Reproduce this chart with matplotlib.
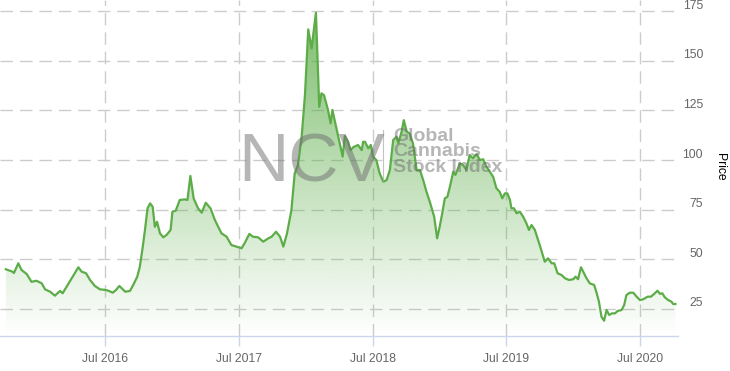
import numpy as np
import pandas as pd
import matplotlib
matplotlib.use("Agg")
import matplotlib.pyplot as plt
import matplotlib.dates as mdates
from matplotlib.transforms import ScaledTranslation

plt.rcParams['font.family'] = ['Liberation Sans', 'DejaVu Sans']

# Global Cannabis Stock Index (NCV), price
dates = [
    "2015-10-03", "2015-10-14", "2015-10-21", "2015-10-25", "2015-11-06", "2015-11-15",
    "2015-11-29", "2015-12-12", "2015-12-26", "2016-01-09", "2016-01-18", "2016-02-01",
    "2016-02-14", "2016-02-28", "2016-03-06", "2016-03-17", "2016-03-31", "2016-04-18",
    "2016-04-27", "2016-05-09", "2016-05-20", "2016-06-02", "2016-06-16", "2016-07-01",
    "2016-07-09", "2016-07-21", "2016-07-30", "2016-08-08", "2016-08-24", "2016-09-06",
    "2016-09-15", "2016-09-26", "2016-10-03", "2016-10-11", "2016-10-17", "2016-10-24",
    "2016-10-31", "2016-11-07", "2016-11-13", "2016-11-19", "2016-11-27", "2016-12-06",
    "2016-12-15", "2016-12-26", "2016-12-31", "2017-01-09", "2017-01-20", "2017-02-03",
    "2017-02-10", "2017-02-18", "2017-02-27", "2017-03-11", "2017-03-21", "2017-04-01",
    "2017-04-14", "2017-04-26", "2017-05-14", "2017-05-28", "2017-06-10", "2017-06-24",
    "2017-07-08", "2017-07-17", "2017-07-29", "2017-08-08", "2017-08-22", "2017-09-05",
    "2017-09-19", "2017-09-28", "2017-10-10", "2017-10-21", "2017-10-30", "2017-11-09",
    "2017-11-21", "2017-11-30", "2017-12-09", "2017-12-19", "2017-12-28", "2018-01-06",
    "2018-01-15", "2018-01-27", "2018-02-05", "2018-02-11", "2018-02-18", "2018-03-01",
    "2018-03-08", "2018-03-13", "2018-03-24", "2018-04-02", "2018-04-10", "2018-04-16",
    "2018-04-25", "2018-05-01", "2018-05-10", "2018-05-22", "2018-06-01", "2018-06-05",
    "2018-06-10", "2018-06-19", "2018-06-26", "2018-07-02", "2018-07-11", "2018-07-20",
    "2018-07-30", "2018-08-08", "2018-08-17", "2018-08-26", "2018-09-04", "2018-09-09",
    "2018-09-18", "2018-09-24", "2018-10-02", "2018-10-10", "2018-10-19", "2018-10-29",
    "2018-11-07", "2018-11-16", "2018-11-25", "2018-12-04", "2018-12-16", "2018-12-24",
    "2018-12-31", "2019-01-07", "2019-01-14", "2019-01-21", "2019-01-28", "2019-02-06",
    "2019-02-12", "2019-02-24", "2019-03-05", "2019-03-14", "2019-03-23", "2019-04-01",
    "2019-04-11", "2019-04-20", "2019-04-29", "2019-05-08", "2019-05-17", "2019-05-26",
    "2019-06-04", "2019-06-13", "2019-06-20", "2019-06-27", "2019-07-04", "2019-07-11",
    "2019-07-15", "2019-07-22", "2019-07-29", "2019-08-07", "2019-08-16", "2019-08-25",
    "2019-09-01", "2019-09-08", "2019-09-17", "2019-09-26", "2019-10-03", "2019-10-14",
    "2019-10-23", "2019-11-02", "2019-11-09", "2019-11-18", "2019-11-29", "2019-12-08",
    "2019-12-19", "2019-12-31", "2020-01-06", "2020-01-13", "2020-01-21", "2020-01-27",
    "2020-02-05", "2020-02-14", "2020-02-26", "2020-03-04", "2020-03-10", "2020-03-17",
    "2020-03-24", "2020-03-31", "2020-04-07", "2020-04-15", "2020-04-23", "2020-04-30",
    "2020-05-11", "2020-05-18", "2020-05-24", "2020-06-02", "2020-06-12", "2020-06-21",
    "2020-06-30", "2020-07-09", "2020-07-21", "2020-07-30", "2020-08-08", "2020-08-17",
    "2020-08-24", "2020-08-30", "2020-09-06", "2020-09-15", "2020-09-24", "2020-09-29",
    "2020-10-05",
]
prices = [
    45.0, 44.3, 43.8, 43.1, 48.0, 44.6,
    42.6, 38.7, 39.2, 37.9, 34.9, 33.7,
    31.7, 34.1, 32.9, 36.2, 40.5, 46.0,
    43.8, 43.0, 39.6, 36.6, 34.9, 34.6,
    34.2, 33.2, 34.6, 36.6, 33.7, 34.1,
    37.1, 41.3, 46.3, 56.4, 64.8, 75.7,
    78.2, 76.5, 66.4, 68.9, 63.1, 61.1,
    62.3, 64.8, 74.0, 74.5, 79.9, 80.2,
    79.9, 92.0, 80.7, 75.7, 73.5, 78.5,
    75.7, 69.8, 63.1, 61.4, 57.2, 56.4,
    55.6, 58.4, 62.8, 61.4, 61.1, 58.9,
    60.6, 61.4, 63.9, 61.4, 56.4, 63.1,
    74.8, 93.3, 97.5, 111.7, 132.7, 165.8,
    156.2, 174.2, 126.8, 133.6, 132.7, 125.2,
    118.5, 125.2, 116.0, 108.4, 101.7, 112.1,
    109.2, 105.0, 106.6, 107.6, 105.0, 109.2,
    109.2, 105.9, 107.6, 101.7, 100.0, 93.3,
    89.1, 89.9, 95.0, 110.1, 111.7, 108.4,
    114.3, 120.1, 114.3, 113.4, 108.4, 95.0,
    95.0, 89.9, 84.0, 79.0, 71.5, 60.6,
    66.4, 73.2, 80.7, 81.5, 86.6, 94.1,
    92.5, 98.3, 97.5, 95.0, 102.5, 100.9,
    103.0, 100.0, 100.4, 96.6, 94.1, 91.6,
    85.8, 84.0, 80.7, 83.2, 83.2, 79.9,
    75.7, 75.7, 73.2, 74.0, 71.5, 68.1,
    64.8, 67.3, 64.8, 59.7, 55.6, 48.8,
    50.5, 48.0, 48.0, 43.0, 42.1, 40.5,
    39.6, 40.0, 41.3, 40.0, 46.0, 43.8,
    40.5, 37.9, 37.1, 32.9, 28.7, 21.1,
    19.1, 24.5, 22.0, 22.8, 22.8, 24.0,
    24.5, 27.0, 32.0, 33.2, 33.2, 31.2,
    29.5, 29.9, 31.2, 31.2, 32.6, 34.2,
    32.6, 32.9, 30.9, 29.5, 28.7, 27.5,
    27.5,
]
y_ticks = [25, 50, 75, 100, 125, 150, 175]

line_color = '#5cad48'
grid_color = '#cccccc'
label_color = '#666666'

x = mdates.date2num(pd.to_datetime(dates))
y = np.array(prices)
y_min, y_max = 11.4, 180.6
x_min = mdates.date2num(pd.Timestamp("2015-09-17"))
x_max = mdates.date2num(pd.Timestamp("2020-10-12"))

fig = plt.figure(figsize=(7.3, 3.71), dpi=100)
ax = fig.add_axes([0, 35 / 371, 678 / 730, 336 / 371])

# gradient area under the line
poly = ax.fill_between(x, y, y_min, color='none', lw=0)
alpha = np.linspace(0.82, 0.0, 256)
rgba = np.zeros((256, 1, 4))
rgba[..., :3] = matplotlib.colors.to_rgb(line_color)
rgba[:, 0, 3] = alpha
img = ax.imshow(rgba, extent=[x_min, x_max, y_min, y_max], aspect='auto',
                origin='upper', zorder=1)
img.set_clip_path(poly.get_paths()[0], transform=ax.transData)

ax.plot(x, y, color=line_color, lw=1.6, zorder=3)

ax.set_xlim(x_min, x_max)
ax.set_ylim(y_min, y_max)

ax.xaxis.set_major_locator(mdates.MonthLocator(bymonth=7))
ax.xaxis.set_major_formatter(mdates.DateFormatter('%b %Y'))
ax.set_yticks(y_ticks)

ax.grid(True, color=grid_color, lw=1, dashes=(9, 5), zorder=0)
ax.set_axisbelow(True)

for side in ['top', 'left', 'right']:
    ax.spines[side].set_visible(False)
ax.spines['bottom'].set_color('#ccd6eb')
ax.spines['bottom'].set_linewidth(1)

ax.yaxis.tick_right()
ax.tick_params(axis='y', length=0, pad=18, labelsize=8.7, labelcolor=label_color)
shift_up = ScaledTranslation(0, 7 / 100, fig.dpi_scale_trans)
for lab in ax.get_yticklabels():
    lab.set_horizontalalignment('right')
    lab.set_transform(lab.get_transform() + shift_up)
ax.tick_params(axis='x', length=7, width=1, color='#ccd6eb', pad=5,
               labelsize=8.7, labelcolor=label_color)

fig.text(720 / 730, 1 - 167 / 371, 'Price', rotation=270, ha='center', va='center',
         fontsize=8.7, color='black')

# watermark
fig.text(238 / 730, 1 - 182 / 371, 'NCV', fontsize=50, color='#6e6e6e', alpha=0.5,
         ha='left', va='baseline', zorder=5)
fig.add_artist(matplotlib.lines.Line2D([383 / 730, 383 / 730],
                                       [1 - 130 / 371, 1 - 181 / 371],
                                       color='#aaaaaa', lw=0.8, alpha=0.7))
fig.text(393 / 730, 1 - 128 / 371, 'Global\nCannabis\nStock Index', fontsize=14,
         fontweight='bold', color='#6e6e6e', alpha=0.5, ha='left', va='top',
         linespacing=0.88, zorder=5)

fig.savefig('out.png', dpi=100)
